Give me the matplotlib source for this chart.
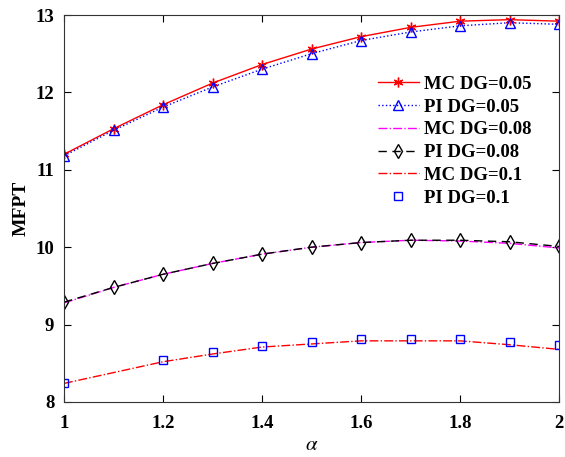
import numpy as np
import matplotlib.pyplot as plt

plt.rcParams['font.family'] = ['Liberation Serif', 'DejaVu Serif']
plt.rcParams['mathtext.fontset'] = 'stix'

# data
alpha = np.round(np.arange(1.0, 2.01, 0.1), 1)
mc_005 = [11.20, 11.53, 11.84, 12.12, 12.36, 12.56, 12.72, 12.84, 12.92, 12.94, 12.92]
pi_005 = [11.18, 11.51, 11.81, 12.07, 12.30, 12.50, 12.67, 12.78, 12.86, 12.90, 12.88]
mc_008 = [9.28, 9.48, 9.65, 9.79, 9.91, 10.00, 10.06, 10.09, 10.08, 10.05, 9.99]
pi_008 = [9.29, 9.48, 9.65, 9.79, 9.91, 10.00, 10.06, 10.09, 10.09, 10.07, 10.01]
mc_01 = [8.24, 8.38, 8.52, 8.62, 8.71, 8.75, 8.79, 8.79, 8.79, 8.74, 8.68]
# PI DG=0.1 has no point at alpha=1.1
alpha_pi01 = [1.0, 1.2, 1.3, 1.4, 1.5, 1.6, 1.7, 1.8, 1.9, 2.0]
pi_01 = [8.25, 8.54, 8.64, 8.72, 8.77, 8.81, 8.82, 8.81, 8.78, 8.73]

fig = plt.figure(figsize=(5.65, 4.57), dpi=100)
ax = fig.add_axes([64/565, 1-402/457, 495/565, 387/457])

ax.plot(alpha, mc_005, '-', color='red', lw=1, marker=(6, 2, 0), ms=7,
        mec='red', label='MC DG=0.05')
ax.plot(alpha, pi_005, ':', color='blue', lw=1, marker='^', ms=7,
        mfc='none', mec='blue', label='PI DG=0.05')
ax.plot(alpha, mc_008, '-.', color='magenta', lw=1, label='MC DG=0.08')
ax.plot(alpha, pi_008, '--', color='black', lw=1, marker='d', ms=7,
        mfc='none', mec='black', label='PI DG=0.08', dashes=(6, 4))
ax.plot(alpha, mc_01, '-.', color='red', lw=1, label='MC DG=0.1')
ax.plot(alpha_pi01, pi_01, 's', color='blue', ms=6, mfc='none', mec='blue',
        label='PI DG=0.1')

ax.set_xlim(1, 2)
ax.set_ylim(8, 13)
ax.set_xticks([1, 1.2, 1.4, 1.6, 1.8, 2])
ax.set_xticklabels(['1', '1.2', '1.4', '1.6', '1.8', '2'])
ax.set_yticks([8, 9, 10, 11, 12, 13])
ax.tick_params(direction='in', top=True, right=True, length=5, width=0.8,
               labelsize=13.5)
ax.tick_params(axis='x', pad=9)
ax.tick_params(axis='y', pad=7)
for lab in ax.get_xticklabels() + ax.get_yticklabels():
    lab.set_fontweight('bold')
for s in ax.spines.values():
    s.set_color('#333333')
    s.set_linewidth(0.8)

ax.set_xlabel(r'$\alpha$', fontsize=15, labelpad=3)
ax.set_ylabel('MFPT', fontsize=14, fontweight='bold', labelpad=4)

ax.legend(loc='upper right', bbox_to_anchor=(0.968, 0.872), frameon=False,
          prop={'weight': 'bold', 'size': 13.5}, handlelength=2.2,
          labelspacing=0.3, handletextpad=0.3, borderaxespad=0.2)

fig.savefig('out.png', dpi=100)
